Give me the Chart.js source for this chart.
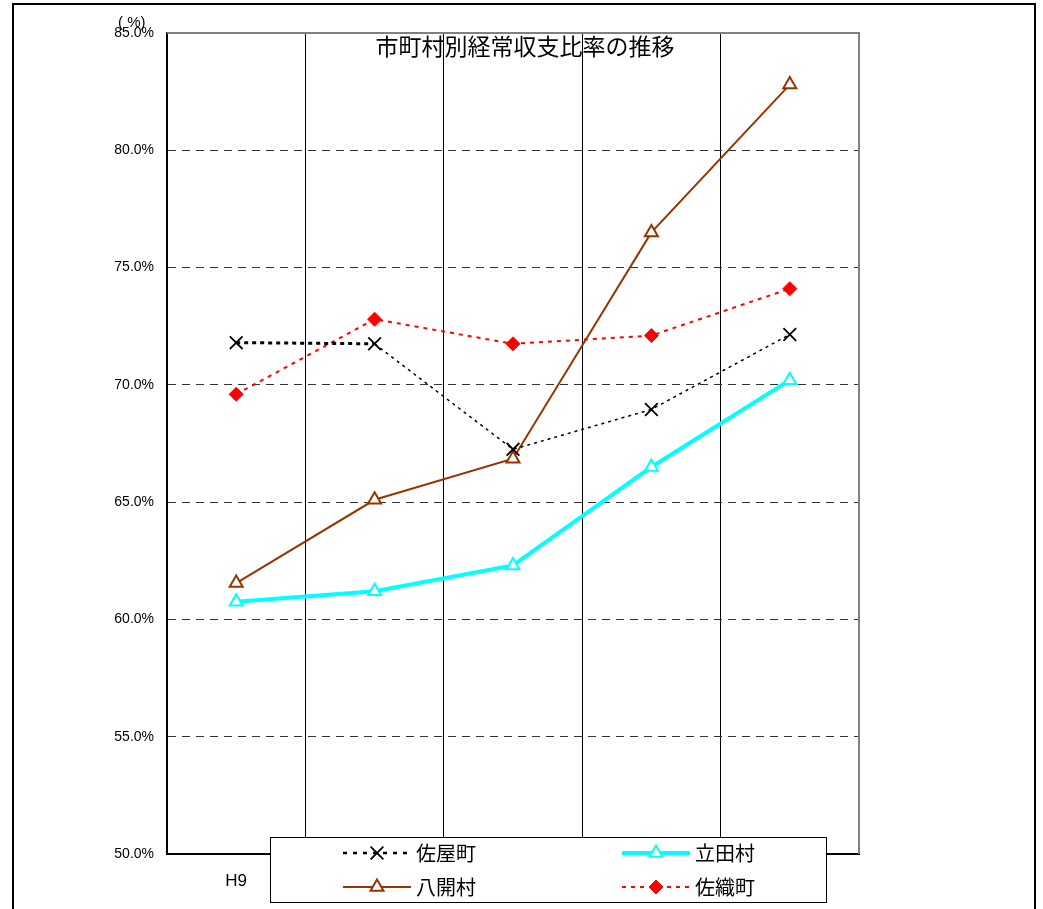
<!DOCTYPE html>
<html>
<head>
<meta charset="utf-8">
<script src="https://cdn.jsdelivr.net/npm/chart.js@4/dist/chart.umd.min.js"></script>
<style>
  html, body { margin: 0; padding: 0; background: #fff; }
  #wrap { width: 1043px; height: 909px; position: relative; }
</style>
</head>
<body>
<div id="wrap"><canvas id="myChart"></canvas></div>
<script>
// 市町村別経常収支比率の推移
const categories = ["H9", "H10", "H11", "H12", "H13"];
const sayaCho = [71.8, 71.75, 67.25, 68.95, 72.15];       // 佐屋町
const tatsutaMura = [60.75, 61.2, 62.3, 66.5, 70.2];      // 立田村
const hachikaiMura = [61.55, 65.1, 66.85, 76.5, 82.8];    // 八開村
const saoriCho = [69.6, 72.8, 71.75, 72.1, 74.1];         // 佐織町
const seriesNames = ["佐屋町", "立田村", "八開村", "佐織町"];
const yMin = 50, yMax = 85, yStep = 5;

const BROWN = "#993300";
const CJK = "'Noto Sans CJK JP', 'Noto Sans', sans-serif";

const datasets = [
  {
    label: seriesNames[0],
    data: sayaCho,
    borderColor: "#000",
    borderWidth: 1.5,
    borderDash: [3, 4],
    pointStyle: "crossRot",
    pointRadius: 9,
    pointBorderWidth: 1.8,
    pointBorderColor: "#000",
    pointBackgroundColor: "#000",
    segment: {
      borderWidth: ctx => ctx.p0DataIndex === 0 ? 3 : 1.5,
      borderDash: ctx => ctx.p0DataIndex === 0 ? [4, 4] : [3, 4]
    }
  },
  {
    label: seriesNames[1],
    data: tatsutaMura,
    borderColor: "#00ffff",
    borderWidth: 4,
    pointStyle: "triangle",
    pointRadius: 7.5,
    pointBorderWidth: 2,
    pointBorderColor: "#00ffff",
    pointBackgroundColor: "#fff"
  },
  {
    label: seriesNames[2],
    data: hachikaiMura,
    borderColor: BROWN,
    borderWidth: 2,
    pointStyle: "triangle",
    pointRadius: 7.5,
    pointBorderWidth: 2,
    pointBorderColor: BROWN,
    pointBackgroundColor: "#fff"
  },
  {
    label: seriesNames[3],
    data: saoriCho,
    borderColor: "#ff0000",
    borderWidth: 2,
    borderDash: [4, 5],
    pointStyle: "rectRot",
    pointRadius: 7,
    pointBorderWidth: 1,
    pointBorderColor: "#ff0000",
    pointBackgroundColor: "#ff0000"
  }
];

// outer frame, title, (%) label, plot frame, legend box
const decorations = {
  id: "decorations",
  beforeDraw(chart) {
    const ctx = chart.ctx;
    ctx.save();
    ctx.fillStyle = "#fff";
    ctx.fillRect(0, 0, chart.width, chart.height);
    ctx.strokeStyle = "#000";
    ctx.lineWidth = 2;
    ctx.strokeRect(13, 4, 1022, 940);
    ctx.restore();
  },
  afterDatasetsDraw(chart) {
    const ctx = chart.ctx;
    const a = chart.chartArea;
    ctx.save();
    ctx.strokeStyle = "#808080";
    ctx.lineWidth = 2;
    ctx.beginPath();
    ctx.moveTo(a.left, a.top);
    ctx.lineTo(a.right, a.top);
    ctx.lineTo(a.right, a.bottom);
    ctx.stroke();

    ctx.fillStyle = "#000";
    ctx.textAlign = "center";
    ctx.textBaseline = "middle";
    ctx.font = "23px " + CJK;
    ctx.fillText("市町村別経常収支比率の推移", 525, 46);

    ctx.font = "15px 'Liberation Sans', sans-serif";
    ctx.textAlign = "left";
    ctx.fillText("( %)", 118, 23);
    ctx.restore();
  },
  afterDraw(chart) {
    const ctx = chart.ctx;
    const helpers = Chart.helpers;
    ctx.save();
    // legend box covers the remaining category labels
    ctx.fillStyle = "#fff";
    ctx.fillRect(270, 837, 556, 66);
    ctx.strokeStyle = "#000";
    ctx.lineWidth = 1;
    ctx.strokeRect(270.5, 837.5, 556, 65);

    const slots = [[343, 853], [622, 853], [343, 887], [622, 887]];
    const order = [0, 1, 2, 3];
    order.forEach((di, i) => {
      const ds = chart.data.datasets[di];
      const [x0, y] = slots[i];
      const x1 = x0 + 68;
      const cx = (x0 + x1) / 2;
      ctx.save();
      ctx.strokeStyle = ds.borderColor;
      ctx.lineWidth = di === 0 ? 2.5 : ds.borderWidth;
      ctx.setLineDash(di === 0 ? [4, 6] : (ds.borderDash || []));
      ctx.beginPath();
      ctx.moveTo(x0, y);
      ctx.lineTo(x1, y);
      ctx.stroke();
      ctx.setLineDash([]);
      ctx.fillStyle = ds.pointBackgroundColor;
      ctx.strokeStyle = ds.pointBorderColor;
      ctx.lineWidth = ds.pointBorderWidth;
      helpers.drawPoint(ctx, {
        pointStyle: ds.pointStyle,
        radius: ds.pointRadius,
        borderWidth: ds.pointBorderWidth,
        rotation: 0
      }, cx, y);
      ctx.restore();
      ctx.fillStyle = "#000";
      ctx.font = "20px " + CJK;
      ctx.textAlign = "left";
      ctx.textBaseline = "middle";
      ctx.fillText(ds.label, x1 + 5, y);
    });
    ctx.restore();
  }
};

const ctx = document.getElementById("myChart").getContext("2d");
new Chart(ctx, {
  type: "line",
  data: { labels: categories, datasets: datasets },
  options: {
    responsive: true,
    maintainAspectRatio: false,
    animation: false,
    layout: { padding: { left: 0, right: 184, top: 33, bottom: 0 } },
    plugins: {
      legend: { display: false },
      title: { display: false },
      tooltip: { enabled: false }
    },
    elements: { line: { tension: 0 } },
    scales: {
      x: {
        offset: true,
        grid: {
          offset: true,
          color: "#000",
          lineWidth: 1,
          drawTicks: false
        },
        border: { color: "#000", width: 2 },
        ticks: {
          color: "#000",
          padding: 17,
          font: { family: "'Liberation Sans', sans-serif", size: 17 }
        },
        afterFit(scale) { scale.height = 55; }
      },
      y: {
        min: yMin,
        max: yMax,
        grid: {
          color: c => (c.tick && (c.tick.value === yMin || c.tick.value === yMax)) ? "rgba(0,0,0,0)" : "#333",
          lineWidth: 1,
          drawTicks: false
        },
        border: { color: "#000", width: 2, dash: [8, 6] },
        ticks: {
          stepSize: yStep,
          color: "#000",
          padding: 13,
          font: { family: "'Liberation Sans', sans-serif", size: 14 },
          callback: v => v.toFixed(1) + "%"
        },
        afterFit(scale) { scale.width = 167; }
      }
    }
  },
  plugins: [decorations]
});
</script>
</body>
</html>
